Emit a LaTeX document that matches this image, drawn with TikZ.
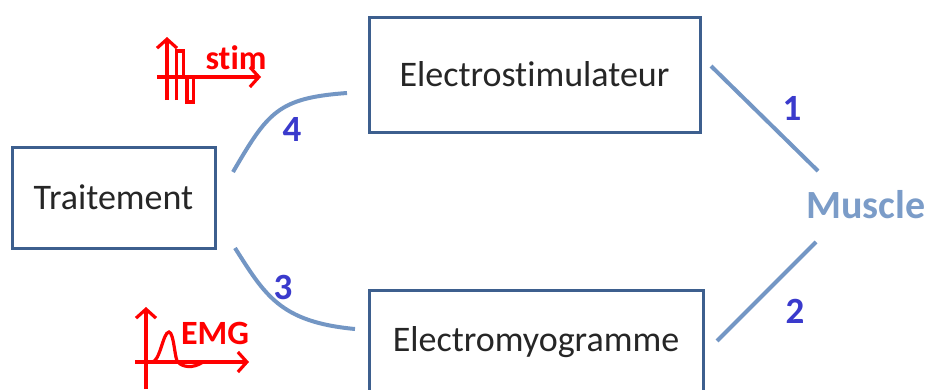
\documentclass[tikz,border=0pt]{standalone}
\usepackage{fontspec}
\setmainfont[RawFeature=-liga]{Carlito}
\usetikzlibrary{arrows.meta}
\definecolor{boxblue}{HTML}{3D5F8E}
\definecolor{linkblue}{HTML}{7396C4}
\definecolor{numblue}{HTML}{3A3ACC}
\definecolor{musclecol}{HTML}{7B9CC8}
\tikzset{
  blockbox/.style={draw=boxblue, line width=3pt, fill=white, inner sep=0pt,
    font=\fontsize{36}{42}\selectfont, text=black!85},
  link/.style={draw=linkblue, line width=4pt},
  numlabel/.style={font=\fontsize{37}{42}\selectfont\bfseries, text=numblue},
  redline/.style={draw=red, line width=3.2pt},
  redarrow/.style={redline, -{Straight Barb[length=9pt,width=20pt,line width=3.2pt]}},
  redlabel/.style={font=\fontsize{34}{40}\selectfont\bfseries, text=red},
}
\begin{document}
\begin{tikzpicture}[x=1pt,y=-1pt]
\useasboundingbox (0,0) rectangle (928,389);
\clip (0,0) rectangle (928,389);
% boxes
\node[blockbox, minimum width=203pt, minimum height=101pt] (trait) at (113.5,197.5) {Traitement};
\node[blockbox, minimum width=331pt, minimum height=115pt] (stimbox) at (534.5,74.5) {Electrostimulateur};
\node[blockbox, minimum width=334pt, minimum height=104pt] (emgbox) at (536,342) {Electromyogramme};
\node[font=\fontsize{40}{46}\selectfont\bfseries, text=musclecol] (muscle) at (866,205) {Muscle};
% connector end points
\coordinate (m1) at (818,171);
\coordinate (s1) at (711,66);
\coordinate (m2) at (816,242);
\coordinate (e2) at (717,341);
\coordinate (t4) at (233,172);
\coordinate (s4) at (347,93);
\coordinate (t3) at (235,248);
\coordinate (e3) at (355,329);
% connectors
\draw[link] (s1) -- (m1);
\draw[link] (m2) -- (e2);
\draw[link] (t4) .. controls (268,112) and (278,98) .. (s4);
\draw[link] (t3) .. controls (265,295) and (280,322) .. (e3);
% number labels
\node[numlabel] (n1) at (792,108) {1};
\node[numlabel] (n2) at (795,311) {2};
\node[numlabel] (n3) at (283,287) {3};
\node[numlabel] (n4) at (292,129) {4};
% stim icon
\draw[redarrow] (167,100) -- (167,37);
\draw[redarrow] (157,77) -- (261,77);
\draw[redline] (176.5,100) -- (176.5,51) -- (183.5,51) -- (183.5,77) -- (187,77) -- (187,102) -- (193.5,102) -- (193.5,77);
\node[redlabel, anchor=base] (stimlabel) at (236,69) {stim};
% EMG icon
\draw[redarrow] (146,389) -- (146,307);
\draw[redarrow] (135,362) -- (249,362);
\draw[redline] (152,362) .. controls (160,362) and (163,332) .. (169,332)
  .. controls (174,332) and (175,362) .. (178,362)
  .. controls (182,367) and (193,369) .. (203,362);
\node[redlabel, anchor=base] (emglabel) at (215,344) {EMG};
\end{tikzpicture}
\end{document}
